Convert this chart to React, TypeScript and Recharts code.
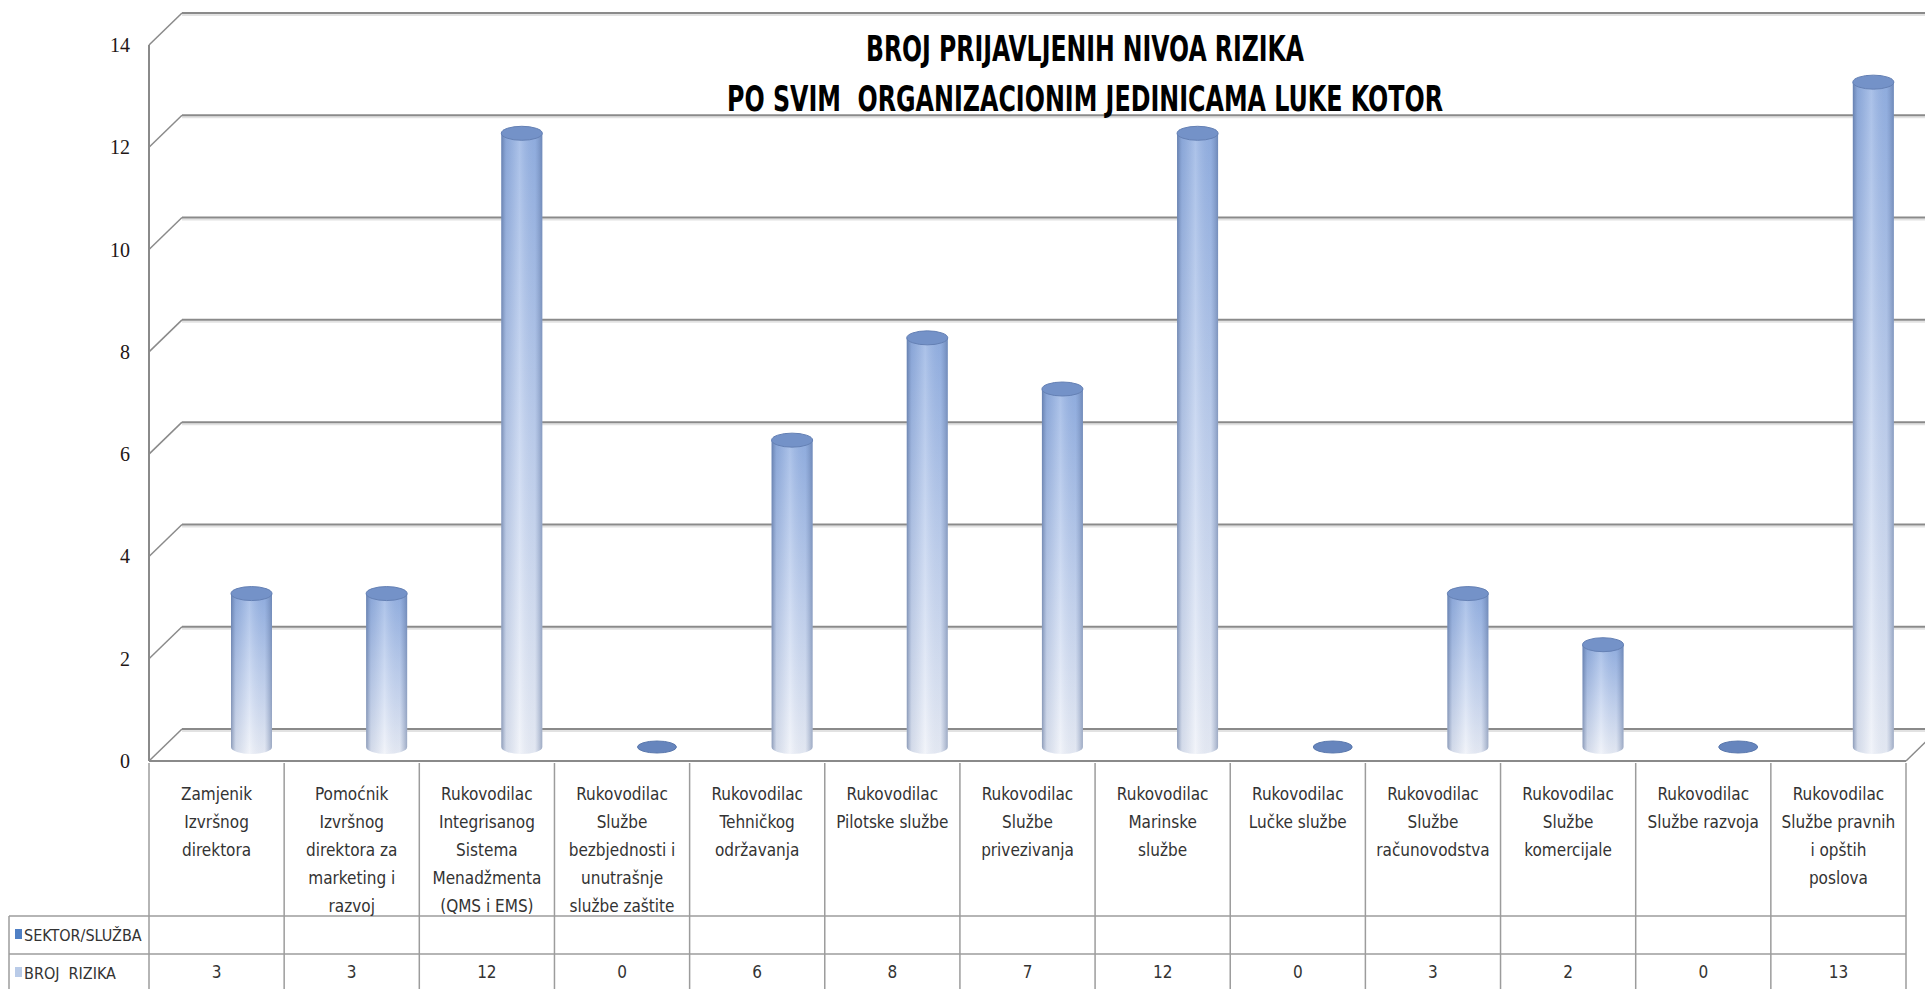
import { BarChart, Bar, XAxis, YAxis, CartesianGrid } from "recharts";

const CATEGORIES = [
  "Zamjenik\nIzvršnog\ndirektora",
  "Pomoćnik\nIzvršnog\ndirektora za\nmarketing i\nrazvoj",
  "Rukovodilac\nIntegrisanog\nSistema\nMenadžmenta\n(QMS i EMS)",
  "Rukovodilac\nSlužbe\nbezbjednosti i\nunutrašnje\nslužbe zaštite",
  "Rukovodilac\nTehničkog\nodržavanja",
  "Rukovodilac\nPilotske službe",
  "Rukovodilac\nSlužbe\nprivezivanja",
  "Rukovodilac\nMarinske\nslužbe",
  "Rukovodilac\nLučke službe",
  "Rukovodilac\nSlužbe\nračunovodstva",
  "Rukovodilac\nSlužbe\nkomercijale",
  "Rukovodilac\nSlužbe razvoja",
  "Rukovodilac\nSlužbe pravnih\ni opštih\nposlova",
];

const BROJ_RIZIKA = [3, 3, 12, 0, 6, 8, 7, 12, 0, 3, 2, 0, 13];

const SERIES_NAMES = ["SEKTOR/SLUŽBA", "BROJ  RIZIKA"];
const Y_TICKS = [0, 2, 4, 6, 8, 10, 12, 14];
const TITLE = ["BROJ PRIJAVLJENIH NIVOA RIZIKA", "PO SVIM  ORGANIZACIONIM JEDINICAMA LUKE KOTOR"];

const data = CATEGORIES.map((name, i) => ({ name, value: BROJ_RIZIKA[i] }));

// layout (px)
const W = 1925;
const H = 989;
const LEFT = 149;
const RIGHT = 1906;
const TOP = 45;
const BOTTOM = 761;
const COL_W = (RIGHT - LEFT) / CATEGORIES.length;
const DEPTH_X = 33;
const DEPTH_Y = 32;
const BAR_DX = 35;
const BAR_DY = -14;
const ROW1 = 916;
const ROW2 = 954;

const FONT = "'Liberation Sans Narrow', 'DejaVu Sans Condensed', 'Open Sans', sans-serif";
const GRID = "#8a8a8a";
const TABLE = "#9c9c9c";
const TEXT = "#333";

const GridLine = (props: any) => {
  const { x1, x2, y1 } = props;
  const isFloor = Math.abs(y1 - BOTTOM) < 1;
  return (
    <g>
      <line x1={x1 + DEPTH_X} y1={y1 - DEPTH_Y + 2} x2={W} y2={y1 - DEPTH_Y + 2} stroke="#e2e2e2" strokeWidth={2} />
      <line x1={x1 + DEPTH_X} y1={y1 - DEPTH_Y} x2={W} y2={y1 - DEPTH_Y} stroke={GRID} strokeWidth={2} />
      <line x1={x1} y1={y1} x2={x1 + DEPTH_X} y2={y1 - DEPTH_Y} stroke={GRID} strokeWidth={1.5} />
      {isFloor && (
        <line x1={x2} y1={y1} x2={x2 + DEPTH_X} y2={y1 - DEPTH_Y} stroke={GRID} strokeWidth={1.5} />
      )}
    </g>
  );
};

const Cylinder = (props: any) => {
  const { x, y, width, height } = props;
  const cx = x + width / 2 + BAR_DX;
  const rx = width / 2;
  const ry = 7;
  const bottom = y + height + BAR_DY;
  const top = y + BAR_DY;
  if (!height || height < 1) {
    return <ellipse cx={cx} cy={bottom} rx={rx - 1} ry={6} fill="#6685bd" stroke="#5a78ad" strokeWidth={1} />;
  }
  const body = `M${cx - rx},${top} L${cx - rx},${bottom} A${rx},${ry} 0 0 0 ${cx + rx},${bottom} L${cx + rx},${top} Z`;
  return (
    <g>
      <path d={body} fill="url(#cylV)" />
      <path d={body} fill="url(#cylH)" />
      <ellipse cx={cx} cy={top} rx={rx} ry={ry} fill="#7492c8" stroke="#6480b4" strokeWidth={1} />
    </g>
  );
};

const YTick = (props: any) => {
  const { x, y, payload } = props;
  return (
    <text
      x={x - 17}
      y={y + 7}
      textAnchor="end"
      fontFamily="'Liberation Serif', serif"
      fontSize={20}
      fill="#221616"
    >
      {payload.value}
    </text>
  );
};

const CategoryCell = (props: any) => {
  const { x, y, payload, index } = props;
  const lines = String(payload.value).split("\n");
  const left = x - COL_W / 2;
  const right = x + COL_W / 2;
  return (
    <g>
      {index === 0 && (
        <g>
          <line x1={left} y1={y} x2={left} y2={H} stroke={TABLE} strokeWidth={1.5} />
          <line x1={9} y1={ROW1} x2={left} y2={ROW1} stroke={TABLE} strokeWidth={1.5} />
          <line x1={9} y1={ROW2} x2={left} y2={ROW2} stroke={TABLE} strokeWidth={1.5} />
          <line x1={9} y1={ROW1} x2={9} y2={H} stroke={TABLE} strokeWidth={1.5} />
          <rect x={15} y={929} width={7} height={10} fill="#4f7fc4" />
          <text x={24} y={941} fontFamily={FONT} fontSize={16} fill={TEXT}>
            {SERIES_NAMES[0]}
          </text>
          <rect x={15} y={967} width={7} height={10} fill="#b9cbe8" />
          <text x={24} y={979} fontFamily={FONT} fontSize={16} fill={TEXT} style={{ whiteSpace: "pre" }}>
            {SERIES_NAMES[1]}
          </text>
        </g>
      )}
      <line x1={right} y1={y} x2={right} y2={H} stroke={TABLE} strokeWidth={1.5} />
      <line x1={left} y1={ROW1} x2={right} y2={ROW1} stroke={TABLE} strokeWidth={1.5} />
      <line x1={left} y1={ROW2} x2={right} y2={ROW2} stroke={TABLE} strokeWidth={1.5} />
      {lines.map((ln, i) => (
        <text
          key={i}
          x={x}
          y={y + 37 + i * 28}
          textAnchor="middle"
          fontFamily={FONT}
          fontSize={17}
          fill={TEXT}
        >
          {ln}
        </text>
      ))}
      <text x={x} y={978} textAnchor="middle" fontFamily={FONT} fontSize={17} fill={TEXT}>
        {BROJ_RIZIKA[index]}
      </text>
    </g>
  );
};

export default function App() {
  return (
    <div style={{ position: "absolute", left: 0, top: 0, width: W, height: H, background: "#fff" }}>
      <BarChart
        width={W}
        height={H}
        data={data}
        margin={{ top: TOP, right: W - RIGHT, bottom: 0, left: 0 }}
        barSize={41}
      >
        <defs>
          <linearGradient id="cylV" x1="0" y1="0" x2="0" y2="1">
            <stop offset="0%" stopColor="#93b0e2" />
            <stop offset="50%" stopColor="#c2d2ef" />
            <stop offset="100%" stopColor="#eef1f8" />
          </linearGradient>
          <linearGradient id="cylH" x1="0" y1="0" x2="1" y2="0">
            <stop offset="0%" stopColor="#3e5684" stopOpacity={0.55} />
            <stop offset="12%" stopColor="#5d76a6" stopOpacity={0.18} />
            <stop offset="45%" stopColor="#ffffff" stopOpacity={0.22} />
            <stop offset="82%" stopColor="#5d76a6" stopOpacity={0.08} />
            <stop offset="100%" stopColor="#3e5684" stopOpacity={0.45} />
          </linearGradient>
        </defs>
        <CartesianGrid vertical={false} horizontal={GridLine} />
        <YAxis
          width={LEFT}
          domain={[0, 14]}
          ticks={Y_TICKS}
          interval={0}
          tickLine={false}
          tickSize={0}
          axisLine={{ stroke: GRID, strokeWidth: 2 }}
          tick={YTick}
        />
        <XAxis
          dataKey="name"
          height={H - BOTTOM}
          interval={0}
          tickLine={false}
          tickSize={0}
          axisLine={{ stroke: GRID, strokeWidth: 2 }}
          tick={CategoryCell}
        />
        <Bar dataKey="value" shape={Cylinder} isAnimationActive={false} />
      </BarChart>
      <svg
        width={W}
        height={130}
        style={{ position: "absolute", left: 0, top: 0, pointerEvents: "none" }}
      >
        <text
          x={866}
          y={61}
          textLength={438}
          lengthAdjust="spacingAndGlyphs"
          fontFamily={FONT}
          fontWeight="bold"
          fontSize={36}
          fill="#000"
        >
          {TITLE[0]}
        </text>
        <text
          x={727}
          y={111}
          textLength={716}
          lengthAdjust="spacingAndGlyphs"
          fontFamily={FONT}
          fontWeight="bold"
          fontSize={36}
          fill="#000"
          style={{ whiteSpace: "pre" }}
        >
          {TITLE[1]}
        </text>
      </svg>
    </div>
  );
}
